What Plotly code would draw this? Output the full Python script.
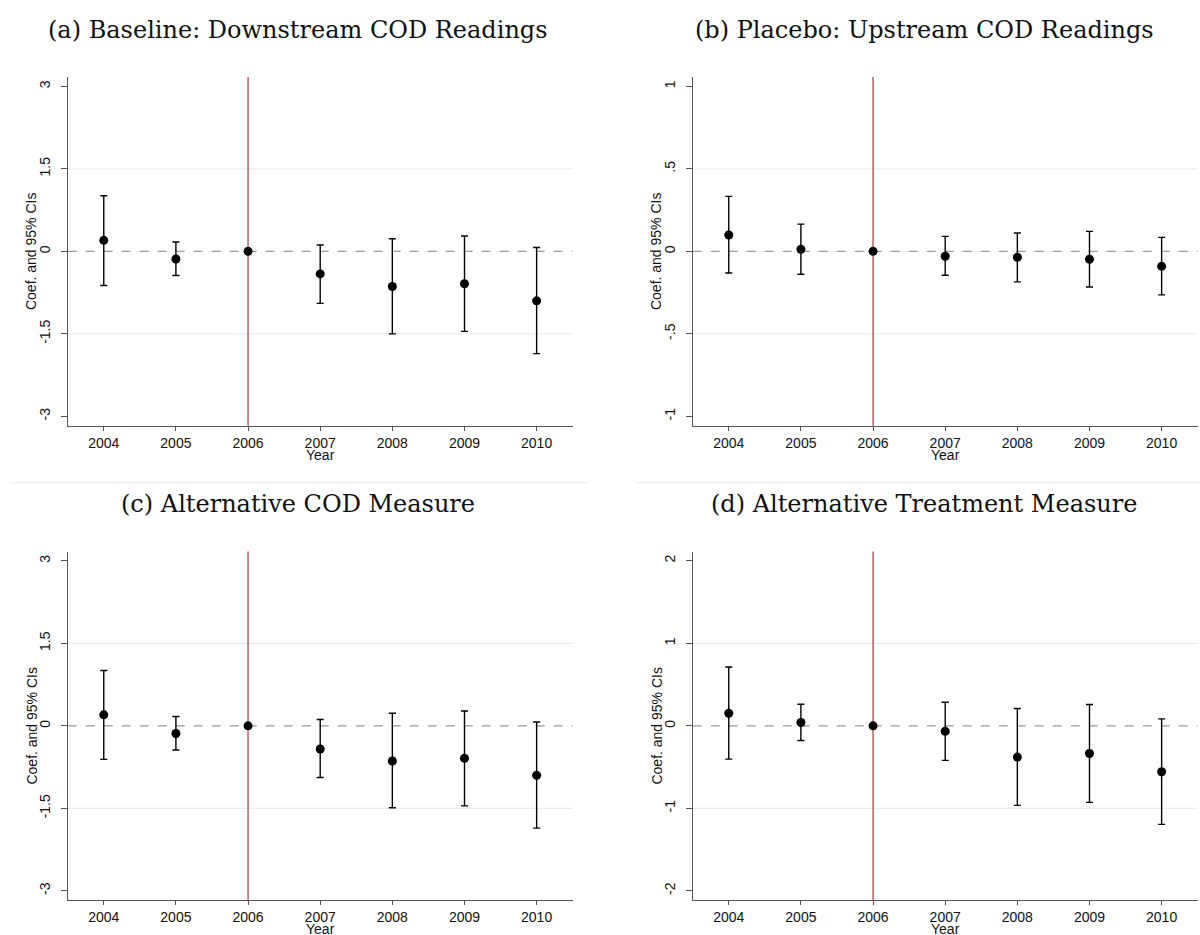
import plotly.graph_objects as go

years = [2004, 2005, 2006, 2007, 2008, 2009, 2010]

# (a) Baseline: Downstream COD Readings
coef_a = [0.20, -0.14, 0.0, -0.41, -0.64, -0.59, -0.90]
upper_a = [1.01, 0.17, 0.0, 0.115, 0.23, 0.28, 0.07]
lower_a = [-0.62, -0.44, 0.0, -0.945, -1.50, -1.455, -1.86]

# (b) Placebo: Upstream COD Readings
coef_b = [0.099, 0.012, 0.0, -0.030, -0.036, -0.048, -0.091]
upper_b = [0.333, 0.165, 0.0, 0.091, 0.111, 0.121, 0.085]
lower_b = [-0.131, -0.139, 0.0, -0.145, -0.185, -0.216, -0.264]

# (c) Alternative COD Measure
coef_c = [0.20, -0.14, 0.0, -0.42, -0.64, -0.59, -0.90]
upper_c = [1.006, 0.17, 0.0, 0.115, 0.23, 0.27, 0.07]
lower_c = [-0.61, -0.44, 0.0, -0.94, -1.49, -1.455, -1.86]

# (d) Alternative Treatment Measure
coef_d = [0.153, 0.040, 0.0, -0.065, -0.379, -0.335, -0.556]
upper_d = [0.714, 0.262, 0.0, 0.286, 0.210, 0.258, 0.085]
lower_d = [-0.403, -0.177, 0.0, -0.419, -0.964, -0.927, -1.194]

titles = ["(a) Baseline: Downstream COD Readings",
          "(b) Placebo: Upstream COD Readings",
          "(c) Alternative COD Measure",
          "(d) Alternative Treatment Measure"]

ytick_a = [-3, -1.5, 0, 1.5, 3]
ytick_a_text = ["-3", "-1.5", "0", "1.5", "3"]
ytick_b = [-1, -0.5, 0, 0.5, 1]
ytick_b_text = ["-1", "-.5", "0", ".5", "1"]
ytick_d = [-2, -1, 0, 1, 2]
ytick_d_text = ["-2", "-1", "0", "1", "2"]

yrange_a = [-3.17, 3.17]
yrange_b = [-1.057, 1.057]
yrange_d = [-2.113, 2.113]

W, H = 1200, 935


def px_x(p):
    return p / W


def px_y(p):
    return (H - p) / H


panels = [
    dict(coef=coef_a, up=upper_a, lo=lower_a, ticks=ytick_a, ttext=ytick_a_text, rng=yrange_a,
         x0=67.7, x1=572.7, top=77.0, bot=425.7, title=titles[0]),
    dict(coef=coef_b, up=upper_b, lo=lower_b, ticks=ytick_b, ttext=ytick_b_text, rng=yrange_b,
         x0=692.7, x1=1197.7, top=77.0, bot=425.7, title=titles[1]),
    dict(coef=coef_c, up=upper_c, lo=lower_c, ticks=ytick_a, ttext=ytick_a_text, rng=yrange_a,
         x0=67.7, x1=572.7, top=551.5, bot=900.2, title=titles[2]),
    dict(coef=coef_d, up=upper_d, lo=lower_d, ticks=ytick_d, ttext=ytick_d_text, rng=yrange_d,
         x0=692.7, x1=1197.7, top=551.5, bot=900.2, title=titles[3]),
]

fig = go.Figure()
shapes = []
annotations = []
axis_col = "#555555"
red = "#b96c72"
grid_col = "#e6eff0"
sans = "Liberation Sans, Arial"

for i, p in enumerate(panels):
    n = "" if i == 0 else str(i + 1)
    xa = "x" + n
    ya = "y" + n
    err_plus = [u - c for u, c in zip(p["up"], p["coef"])]
    err_minus = [c - l for c, l in zip(p["coef"], p["lo"])]
    fig.add_trace(go.Scatter(
        x=years, y=p["coef"], mode="markers", xaxis=xa, yaxis=ya,
        marker=dict(color="black", size=9),
        error_y=dict(type="data", array=err_plus, arrayminus=err_minus,
                     color="black", thickness=1.4, width=3.5, symmetric=False),
        showlegend=False, hoverinfo="skip"))

    fig.layout["xaxis" + n] = dict(
        domain=[px_x(p["x0"]), px_x(p["x1"])], anchor=ya, range=[2003.5, 2010.5],
        tickvals=years, ticktext=[str(y) for y in years],
        showline=True, linecolor=axis_col, linewidth=1.3, ticks="outside",
        ticklen=4, tickcolor=axis_col, tickwidth=1.2, showgrid=False, zeroline=False,
        tickfont=dict(family=sans, size=14, color="#111"))
    fig.layout["yaxis" + n] = dict(
        domain=[px_y(p["bot"]), px_y(p["top"])], anchor=xa, range=p["rng"],
        tickvals=p["ticks"], ticktext=p["ttext"], tickangle=-90,
        showline=True, linecolor=axis_col, linewidth=1.3, ticks="outside",
        ticklen=6, tickcolor=axis_col, tickwidth=1.2, showgrid=False, zeroline=False,
        ticklabelstandoff=5,
        tickfont=dict(family=sans, size=14, color="#111"))

    # light gridlines at inner ticks
    for t in p["ticks"]:
        if t != 0 and abs(t) != max(p["ticks"]):
            shapes.append(dict(type="line", xref=xa + " domain", yref=ya, x0=0, x1=1, y0=t, y1=t,
                               line=dict(color=grid_col, width=1.3), layer="below"))
    # dashed zero line
    shapes.append(dict(type="line", xref=xa + " domain", yref=ya, x0=0, x1=1, y0=0, y1=0,
                       line=dict(color="#9a9a9a", width=1.3, dash="dash"), layer="below"))
    # vertical treatment line
    shapes.append(dict(type="line", xref=xa, yref=ya + " domain", x0=2006, x1=2006, y0=0, y1=1,
                       line=dict(color=red, width=1.6), layer="below"))

    # titles
    cx = 298 if i % 2 == 0 else 924
    ty = 30 if i < 2 else 504
    annotations.append(dict(text=p["title"], xref="paper", yref="paper", x=px_x(cx), y=px_y(ty),
                            xanchor="center", yanchor="middle", showarrow=False,
                            font=dict(family="DejaVu Serif", size=24, color="#111")))
    # y title
    annotations.append(dict(text="Coef. and 95% CIs", xref="paper", yref="paper",
                            x=px_x(p["x0"] - 36), y=px_y((p["top"] + p["bot"]) / 2),
                            xanchor="center", yanchor="middle", textangle=-90, showarrow=False,
                            font=dict(family=sans, size=14, color="#111")))
    # x title
    annotations.append(dict(text="Year", xref="paper", yref="paper",
                            x=px_x((p["x0"] + p["x1"]) / 2), y=px_y(p["bot"] + 29),
                            xanchor="center", yanchor="middle", showarrow=False,
                            font=dict(family=sans, size=14, color="#111")))

# faint separators between rows
shapes.append(dict(type="line", xref="paper", yref="paper", x0=px_x(10), x1=px_x(588),
                   y0=px_y(482.7), y1=px_y(482.7), line=dict(color="#ececec", width=1)))
shapes.append(dict(type="line", xref="paper", yref="paper", x0=px_x(636), x1=px_x(1200),
                   y0=px_y(482.7), y1=px_y(482.7), line=dict(color="#ececec", width=1)))

fig.update_layout(width=W, height=H, margin=dict(l=0, r=0, t=0, b=0),
                  plot_bgcolor="white", paper_bgcolor="white",
                  shapes=shapes, annotations=annotations, showlegend=False)

fig.write_html("out.html")
